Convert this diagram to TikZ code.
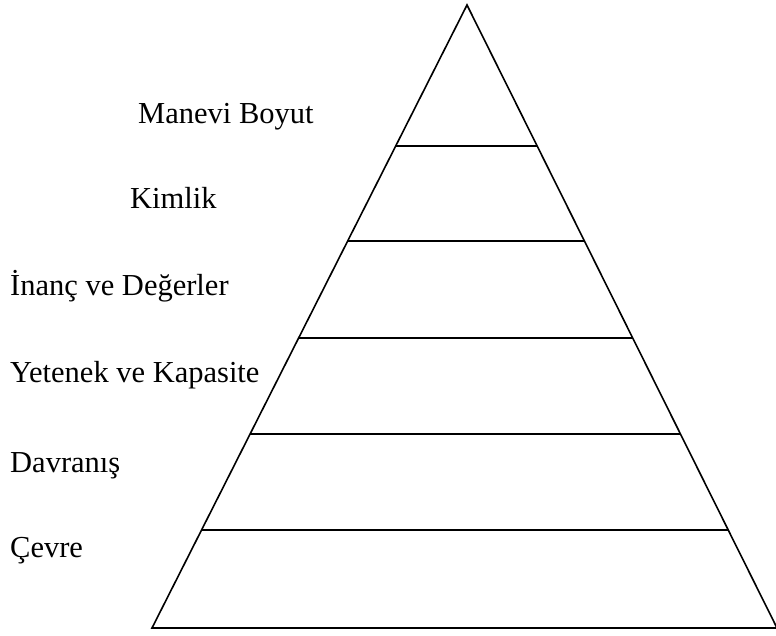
\documentclass[tikz,border=0pt]{standalone}
\usepackage{fontspec}
\setmainfont{Liberation Serif}
\usetikzlibrary{calc}
\tikzset{
    side/.style={line width=1.6pt,line join=miter},
    layer/.style={line width=1.6pt},
    levellabel/.style={anchor=base west,inner sep=0pt,font=\fontsize{30.5}{36}\selectfont},
    }

\begin{document}
\begin{tikzpicture}[x=1pt,y=-1pt]
		\useasboundingbox (0,0) rectangle (776,635);
		\coordinate (top) at (467,5);
		\coordinate (bl) at (152,628);
		\coordinate (br) at (777,628);

		\coordinate (l1) at ($(top)!0.2263!(bl)$);
		\coordinate (r1) at ($(top)!0.2263!(br)$);
		\coordinate (l2) at ($(top)!0.3788!(bl)$);
		\coordinate (r2) at ($(top)!0.3788!(br)$);
		\coordinate (l3) at ($(top)!0.5345!(bl)$);
		\coordinate (r3) at ($(top)!0.5345!(br)$);
		\coordinate (l4) at ($(top)!0.6886!(bl)$);
		\coordinate (r4) at ($(top)!0.6886!(br)$);
		\coordinate (l5) at ($(top)!0.8427!(bl)$);
		\coordinate (r5) at ($(top)!0.8427!(br)$);

		\node[levellabel] (manevi) at (138,123) {Manevi Boyut};
		\node[levellabel] (kimlik) at (130,208) {Kimlik};
		\node[levellabel] (inanc) at (10,295) {İnanç ve Değerler};
		\node[levellabel] (yetenek) at (10,382) {Yetenek ve Kapasite};
		\node[levellabel] (davranis) at (10,472) {Davranış};
		\node[levellabel] (cevre) at (10,557) {Çevre};

		\draw[side] (top) -- (bl) -- (br) -- cycle;
		\draw[layer] (l1) -- (r1);
		\draw[layer] (l2) -- (r2);
		\draw[layer] (l3) -- (r3);
		\draw[layer] (l4) -- (r4);
		\draw[layer] (l5) -- (r5);
\end{tikzpicture}
\end{document}
